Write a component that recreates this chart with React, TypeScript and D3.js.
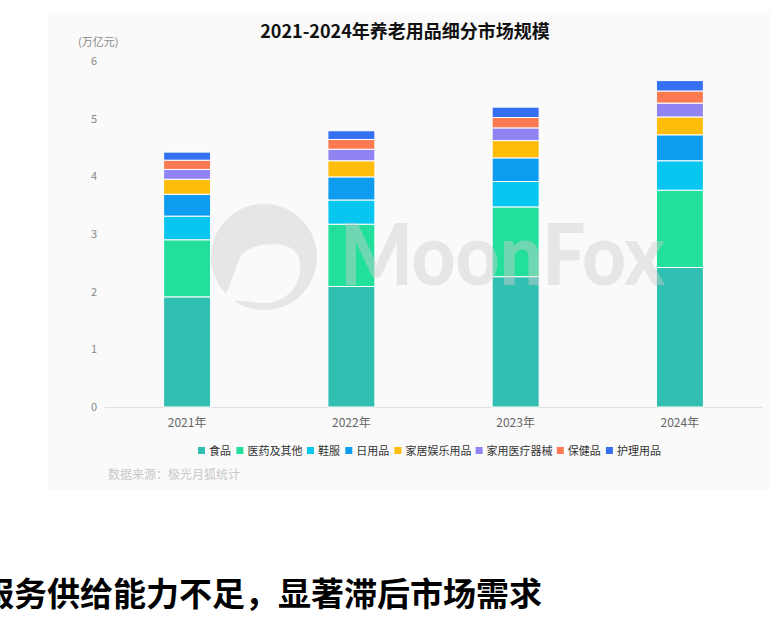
import { useEffect, useRef } from 'react';
import * as d3 from 'd3';

const W = 783
const H = 629
const margin = { top: 61, right: 21, bottom: 222, left: 105 }
const plotW = W - margin.left - margin.right
const plotH = H - margin.top - margin.bottom
const barW = 47

const years = ['2021年', '2022年', '2023年', '2024年']
const seriesNames = ['食品', '医药及其他', '鞋服', '日用品', '家居娱乐用品', '家用医疗器械', '保健品', '护理用品']
const food = [1.91, 2.09, 2.26, 2.42]
const medicine = [0.99, 1.08, 1.21, 1.34]
const apparel = [0.41, 0.42, 0.44, 0.51]
const daily = [0.38, 0.40, 0.41, 0.45]
const homeLeisure = [0.26, 0.28, 0.30, 0.31]
const homeMedical = [0.17, 0.20, 0.22, 0.24]
const healthCare = [0.16, 0.17, 0.18, 0.21]
const personalCare = [0.14, 0.15, 0.18, 0.18]
const yTicks = [0, 1, 2, 3, 4, 5, 6]

const colors = ['#30bfb1', '#22df9c', '#08c6ef', '#0e9cf0', '#fdbd0a', '#9083f2', '#fb7a52', '#356ff2']

const font = '"Noto Sans CJK SC", "Noto Sans", sans-serif'

const App = () => {
  const ref = useRef<SVGSVGElement>(null)

  useEffect(() => {
    if (!ref.current) return
    const svg = d3.select(ref.current)
    svg.selectAll('*').remove()

    const values = [food, medicine, apparel, daily, homeLeisure, homeMedical, healthCare, personalCare]
    const rows = years.map((y, i) => {
      const r: Record<string, number | string> = { year: y }
      seriesNames.forEach((s, k) => { r[s] = values[k][i] })
      return r
    })
    const stacked = d3.stack<any>().keys(seriesNames)(rows)

    const x = d3.scaleBand().domain(years).range([0, plotW]).padding(0)
    const y = d3.scaleLinear().domain([0, 6]).range([plotH, 0])

    // panel background
    svg.append('rect')
      .attr('x', 48).attr('y', 12).attr('width', 722).attr('height', 478)
      .attr('fill', '#fafafa')

    svg.append('text')
      .attr('x', 405).attr('y', 38)
      .attr('text-anchor', 'middle')
      .attr('font-family', font).attr('font-size', 18).attr('font-weight', 700)
      .attr('fill', '#111')
      .text('2021-2024年养老用品细分市场规模')

    svg.append('text')
      .attr('x', 78).attr('y', 46)
      .attr('font-family', font).attr('font-size', 11)
      .attr('fill', '#888')
      .text('(万亿元)')

    const g = svg.append('g').attr('transform', `translate(${margin.left}, ${margin.top})`)

    // y labels
    g.append('g')
      .selectAll('text')
      .data(yTicks)
      .enter()
      .append('text')
      .attr('x', -8)
      .attr('y', d => y(d) + 4)
      .attr('text-anchor', 'end')
      .attr('font-family', font).attr('font-size', 11)
      .attr('fill', '#888')
      .text(d => d)

    // baseline
    g.append('line')
      .attr('x1', 0).attr('x2', plotW)
      .attr('y1', y(0) + 0.5).attr('y2', y(0) + 0.5)
      .attr('stroke', '#e0e0e0')

    // stacked bars
    g.selectAll('.layer')
      .data(stacked)
      .enter()
      .append('g')
      .attr('class', 'layer')
      .attr('fill', (_, i) => colors[i])
      .selectAll('rect')
      .data(d => d)
      .enter()
      .append('rect')
      .attr('x', d => (x(d.data.year as string) ?? 0) + (x.bandwidth() - barW) / 2)
      .attr('y', d => y(d[1]))
      .attr('width', barW)
      .attr('height', d => y(d[0]) - y(d[1]))
      .attr('stroke', '#fff')
      .attr('stroke-width', 1)

    // x labels
    g.append('g')
      .selectAll('text')
      .data(years)
      .enter()
      .append('text')
      .attr('x', d => (x(d) ?? 0) + x.bandwidth() / 2)
      .attr('y', plotH + 20)
      .attr('text-anchor', 'middle')
      .attr('font-family', font).attr('font-size', 12)
      .attr('fill', '#666')
      .text(d => d)

    // watermark
    const wm = svg.append('g').attr('opacity', 0.45)
    wm.append('circle').attr('cx', 264).attr('cy', 257).attr('r', 53).attr('fill', '#cfcfcf')
    wm.append('path')
      .attr('d', 'M 240 258 C 246 243, 292 236, 299 258 C 305 282, 288 304, 262 303 C 248 302, 234 298, 220 304 C 230 290, 234 270, 240 258 Z')
      .attr('fill', '#fafafa')
    wm.append('text')
      .attr('x', 340).attr('y', 285)
      .attr('font-family', 'Lato, Roboto, sans-serif').attr('font-size', 86).attr('font-weight', 900)
      .attr('textLength', 325).attr('lengthAdjust', 'spacingAndGlyphs')
      .attr('fill', '#cfcfcf')
      .text('MoonFox')

    // legend
    let lx = 198
    const legend = svg.append('g')
    seriesNames.forEach((s, i) => {
      legend.append('rect')
        .attr('x', lx).attr('y', 447).attr('width', 7).attr('height', 7)
        .attr('fill', colors[i])
      legend.append('text')
        .attr('x', lx + 11).attr('y', 455)
        .attr('font-family', font).attr('font-size', 11)
        .attr('fill', '#333')
        .text(s)
      lx += 17 + s.length * 10.7
    })

    svg.append('text')
      .attr('x', 108).attr('y', 479)
      .attr('font-family', font).attr('font-size', 12)
      .attr('fill', '#c8c8c8')
      .text('数据来源：极光月狐统计')

    svg.append('text')
      .attr('x', -19).attr('y', 606)
      .attr('font-family', font).attr('font-size', 33).attr('font-weight', 700)
      .attr('fill', '#000')
      .text('服务供给能力不足，显著滞后市场需求')
  }, [])

  return (
    <svg
      ref={ref}
      width={W}
      height={H}
      style={{ position: 'absolute', left: 0, top: 0, display: 'block', background: '#fff' }}
    ></svg>
  )
}

export default App
